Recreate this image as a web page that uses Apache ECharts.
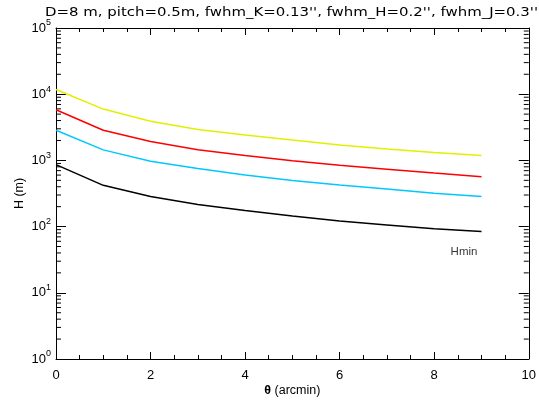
<!DOCTYPE html>
<html><head><meta charset="utf-8">
<script src="https://cdn.jsdelivr.net/npm/echarts@6/dist/echarts.min.js"></script>
<style>html,body{margin:0;padding:0;background:#fff}#c{width:539px;height:402px}</style>
</head><body><div id="c"></div>
<script>
const theta = [0, 1, 2, 3, 4, 5, 6, 7, 8, 9];
const hYellow = [11800, 5960, 3890, 2930, 2410, 2030, 1710, 1490, 1320, 1190];
const hRed = [5820, 2860, 1925, 1443, 1190, 990, 845, 736, 643, 566];
const hCyan = [2860, 1443, 970, 752, 600, 499, 426, 371, 319, 285];
const hMin = [863, 420, 285, 215, 175, 145, 121, 106, 93, 84];
const titleText = "D=8 m, pitch=0.5m, fwhm_K=0.13'', fwhm_H=0.2'', fwhm_J=0.3''";
const labelHmin = {x: 8.63, y: 42, text: 'Hmin'};
const minorVals = [];
for (let e = 0; e < 5; e++) for (let m = 2; m <= 9; m++) minorVals.push(m * Math.pow(10, e));

const FONT = 'Liberation Sans';
const TFONT = '13px "DejaVu Sans"';
const cv = document.createElement('canvas').getContext('2d');
cv.font = TFONT;
const titleW = cv.measureText(titleText).width;
const titleScale = 493 / titleW;

const chart = echarts.init(document.getElementById('c'), null, {renderer: 'canvas'});
const pair = (arr) => theta.map((t, i) => [t, arr[i]]);
const lineS = (name, arr, color) => ({
  name, type: 'line', data: pair(arr), symbol: 'none', smooth: false,
  lineStyle: {color, width: 1.5}, animation: false
});
const axLine = {show: true, onZero: false, lineStyle: {color: '#000', width: 1}};
chart.setOption({
  animation: false,
  graphic: [{
    type: 'text', x: 291.5, y: 13, scaleX: titleScale, scaleY: 1,
    style: {text: titleText, font: TFONT, fill: '#000', align: 'center', verticalAlign: 'middle'}
  }],
  grid: {left: 56, right: 9, top: 28, bottom: 38, containLabel: false},
  xAxis: [{
    type: 'value', min: 0, max: 10, interval: 2, position: 'bottom',
    name: '{b|θ} (arcmin)', nameLocation: 'middle', nameGap: 25, nameMoveOverlap: false,
    nameTextStyle: {fontFamily: FONT, fontSize: 12.5, color: '#000', rich: {b: {fontFamily: FONT, fontSize: 12.5, fontWeight: 'bold'}}},
    axisLine: axLine,
    axisTick: {show: true, inside: true, length: 7, lineStyle: {color: '#000'}},
    minorTick: {show: true, splitNumber: 4, length: 4, lineStyle: {color: '#000'}},
    axisLabel: {fontFamily: FONT, fontSize: 13, color: '#000', margin: 10},
    splitLine: {show: false}
  }, {
    type: 'value', min: 0, max: 10, interval: 2, position: 'top',
    axisLine: axLine,
    axisTick: {show: true, inside: true, length: 7, lineStyle: {color: '#000'}},
    minorTick: {show: true, splitNumber: 4, length: 4, lineStyle: {color: '#000'}},
    axisLabel: {show: false}, splitLine: {show: false}
  }],
  yAxis: [{
    type: 'log', logBase: 10, min: 1, max: 100000, position: 'left',
    name: 'H (m)', nameLocation: 'middle', nameGap: 30, nameRotate: 90, nameMoveOverlap: false,
    nameTextStyle: {fontFamily: FONT, fontSize: 12.5, color: '#000'},
    axisLine: axLine,
    axisTick: {show: true, inside: true, length: 10, lineStyle: {color: '#000'}},
    axisLabel: {fontFamily: FONT, fontSize: 13, color: '#000', margin: 5,
      formatter: v => '10{s|' + Math.round(Math.log10(v)) + '}',
      rich: {s: {fontFamily: FONT, fontSize: 9, color: '#000', verticalAlign: 'top', padding: [0, 0, 10, 0]}}},
    splitLine: {show: false}
  }, {
    type: 'log', logBase: 10, min: 1, max: 100000, position: 'right',
    axisLine: axLine,
    axisTick: {show: true, inside: true, length: 10, lineStyle: {color: '#000'}},
    axisLabel: {show: false}, splitLine: {show: false}
  }],
  series: [
    lineS('J', hYellow, '#e1f000'),
    lineS('H', hRed, '#ff0000'),
    lineS('K', hCyan, '#00c8ff'),
    lineS('Hmin', hMin, '#000000'),
    {
      type: 'scatter', data: [[labelHmin.x, labelHmin.y]], symbolSize: 0,
      label: {show: true, position: 'inside', formatter: labelHmin.text,
        fontFamily: FONT, fontSize: 11.5, color: '#000'}, silent: true
    },
    {
      type: 'custom', clip: false, silent: true,
      data: minorVals.map(v => [v]),
      encode: {y: 0},
      renderItem: (params, api) => {
        const v = api.value(0);
        const pl = api.coord([0, v]);
        const pr = api.coord([10, v]);
        const st = {stroke: '#000', lineWidth: 1};
        return {type: 'group', children: [
          {type: 'line', shape: {x1: pl[0], y1: pl[1], x2: pl[0] + 5, y2: pl[1]}, style: st},
          {type: 'line', shape: {x1: pr[0], y1: pr[1], x2: pr[0] - 5, y2: pr[1]}, style: st}
        ]};
      }
    }
  ]
});
</script></body></html>
